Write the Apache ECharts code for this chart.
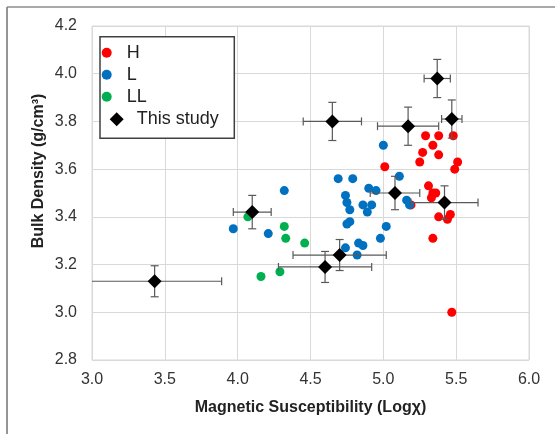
<!DOCTYPE html>
<html>
<head>
<meta charset="utf-8">
<script src="https://cdn.jsdelivr.net/npm/echarts@6/dist/echarts.min.js"></script>
<style>
html,body{margin:0;padding:0;background:#fff;}
#chart{width:555px;height:434px;}
</style>
</head>
<body>
<div id="chart"></div>
<script>
// ---- data ----
var xTicks = [3.0, 3.5, 4.0, 4.5, 5.0, 5.5, 6.0];
var yTicks = [2.8, 3.0, 3.2, 3.4, 3.6, 3.8, 4.0, 4.2];

var hX = [5.29, 5.38, 5.48, 5.34, 5.27, 5.38, 5.25, 5.51, 5.49, 5.01, 5.31, 5.36, 5.34, 5.33, 5.19, 5.38, 5.44, 5.46, 5.34, 5.47];
var hY = [3.74, 3.74, 3.74, 3.70, 3.67, 3.66, 3.63, 3.63, 3.60, 3.61, 3.53, 3.50, 3.50, 3.48, 3.45, 3.40, 3.39, 3.41, 3.31, 3.00];

var lX = [5.00, 4.69, 4.79, 5.11, 4.90, 4.95, 4.32, 4.74, 4.75, 4.77, 4.86, 4.92, 4.89, 5.16, 5.18, 4.77, 4.75, 5.02, 4.98, 4.83, 4.86, 4.74, 4.82, 3.97, 4.21];
var lY = [3.70, 3.56, 3.56, 3.57, 3.52, 3.51, 3.51, 3.49, 3.46, 3.43, 3.45, 3.45, 3.42, 3.47, 3.45, 3.38, 3.37, 3.36, 3.31, 3.29, 3.28, 3.27, 3.24, 3.35, 3.33];

var llX = [4.07, 4.32, 4.33, 4.46, 4.29, 4.16];
var llY = [3.40, 3.36, 3.31, 3.29, 3.17, 3.15];

var studyX    = [5.37, 5.47, 4.65, 5.17, 5.08, 5.42, 4.10, 4.70, 4.60, 3.43];
var studyY    = [3.98, 3.81, 3.80, 3.78, 3.50, 3.46, 3.42, 3.24, 3.19, 3.13];
var studyXErr = [0.09, 0.07, 0.20, 0.21, 0.17, 0.23, 0.13, 0.32, 0.32, 0.46];
var studyYErr = [0.08, 0.08, 0.08, 0.08, 0.07, 0.07, 0.07, 0.065, 0.065, 0.065];

var seriesNames = ['H', 'L', 'LL', 'This study'];
var xTitle = 'Magnetic Susceptibility (Logχ)';
var yTitle = 'Bulk Density (g/cm³)';

function pairs(xs, ys) { return xs.map(function (v, i) { return [v, ys[i]]; }); }
var errData = studyX.map(function (v, i) { return [v, studyY[i], studyXErr[i], studyYErr[i]]; });

var FONT = "'Liberation Sans', Arial, sans-serif";

var chart = echarts.init(document.getElementById('chart'), null, {renderer: 'canvas'});

function renderErr(params, api) {
  var x = api.value(0), y = api.value(1), ex = api.value(2), ey = api.value(3);
  var c = api.coord([x, y]);
  var l = api.coord([x - ex, y]), r = api.coord([x + ex, y]);
  var t = api.coord([x, y + ey]), b = api.coord([x, y - ey]);
  var cap = 4;
  var st = {stroke: '#595959', lineWidth: 1.2};
  return {
    type: 'group',
    children: [
      {type: 'line', shape: {x1: l[0], y1: c[1], x2: r[0], y2: c[1]}, style: st},
      {type: 'line', shape: {x1: l[0], y1: c[1] - cap, x2: l[0], y2: c[1] + cap}, style: st},
      {type: 'line', shape: {x1: r[0], y1: c[1] - cap, x2: r[0], y2: c[1] + cap}, style: st},
      {type: 'line', shape: {x1: c[0], y1: t[1], x2: c[0], y2: b[1]}, style: st},
      {type: 'line', shape: {x1: c[0] - cap, y1: t[1], x2: c[0] + cap, y2: t[1]}, style: st},
      {type: 'line', shape: {x1: c[0] - cap, y1: b[1], x2: c[0] + cap, y2: b[1]}, style: st}
    ]
  };
}

var option = {
  animation: false,
  backgroundColor: '#ffffff',
  textStyle: {fontFamily: FONT},
  grid: {left: 92, right: 26, top: 26, bottom: 74, show: true, borderColor: '#d9d9d9', borderWidth: 1, containLabel: false},
  xAxis: {
    type: 'value', min: xTicks[0], max: xTicks[xTicks.length - 1], interval: 0.5,
    axisLine: {show: false}, axisTick: {show: false},
    splitLine: {show: true, lineStyle: {color: '#d9d9d9', width: 1}},
    axisLabel: {fontSize: 16, color: '#333', margin: 12, fontFamily: FONT,
      formatter: function (v) { return v.toFixed(1); }},
    name: xTitle, nameLocation: 'middle', nameGap: 40,
    nameTextStyle: {fontSize: 16, fontWeight: 'bold', color: '#222', fontFamily: FONT}
  },
  yAxis: {
    type: 'value', min: yTicks[0], max: yTicks[yTicks.length - 1], interval: 0.2,
    axisLine: {show: false}, axisTick: {show: false},
    splitLine: {show: true, lineStyle: {color: '#d9d9d9', width: 1}},
    axisLabel: {fontSize: 16, color: '#333', margin: 15, fontFamily: FONT,
      formatter: function (v) { return v.toFixed(1); }}
  },
  legend: [
    {
      data: seriesNames.slice(0, 3), orient: 'vertical', left: 101.7, top: 41.7,
      padding: 0, itemGap: 0, itemWidth: 30, itemHeight: 10, icon: 'circle',
      textStyle: {fontSize: 18, color: '#222', lineHeight: 22, fontFamily: FONT},
      selectedMode: false, z: 5
    },
    {
      data: [seriesNames[3]], orient: 'vertical', left: 109.7, top: 108.3,
      padding: 0, itemGap: 0, itemWidth: 14, itemHeight: 14, icon: 'diamond',
      textStyle: {fontSize: 18, color: '#222', lineHeight: 22, fontFamily: FONT, padding: [0, 0, 0, 8]},
      selectedMode: false, z: 5
    }
  ],
  graphic: [
    {type: 'rect', z: 3, shape: {x: 100, y: 36.7, width: 134.3, height: 101.6},
      style: {fill: '#ffffff', stroke: '#404040', lineWidth: 1.5}},
    {type: 'line', z: 10, shape: {x1: 7, y1: 7, x2: 555, y2: 7}, style: {stroke: '#555', lineWidth: 1.2}},
    {type: 'line', z: 10, shape: {x1: 7, y1: 7, x2: 7, y2: 434}, style: {stroke: '#8a8a8a', lineWidth: 1.8}},
    {type: 'text', z: 10, x: 38.5, y: 171, rotation: Math.PI / 2,
      style: {text: yTitle, fontSize: 16, fontWeight: 'bold', fill: '#222', fontFamily: FONT,
        align: 'center', verticalAlign: 'middle'}}
  ],
  series: [
    {name: 'H', type: 'scatter', symbol: 'circle', symbolSize: 9, data: pairs(hX, hY),
      itemStyle: {color: '#ff0000', opacity: 1}, z: 2},
    {name: 'L', type: 'scatter', symbol: 'circle', symbolSize: 9, data: pairs(lX, lY),
      itemStyle: {color: '#0070c0', opacity: 1}, z: 2},
    {name: 'LL', type: 'scatter', symbol: 'circle', symbolSize: 9, data: pairs(llX, llY),
      itemStyle: {color: '#00b050', opacity: 1}, z: 2},
    {name: 'errbars', type: 'custom', renderItem: renderErr, data: errData, clip: true,
      encode: {x: 0, y: 1}, z: 3, silent: true},
    {name: 'This study', type: 'scatter', symbol: 'diamond', symbolSize: 14, data: pairs(studyX, studyY),
      itemStyle: {color: '#000000', opacity: 1}, z: 4}
  ]
};
chart.setOption(option);
</script>
</body>
</html>
